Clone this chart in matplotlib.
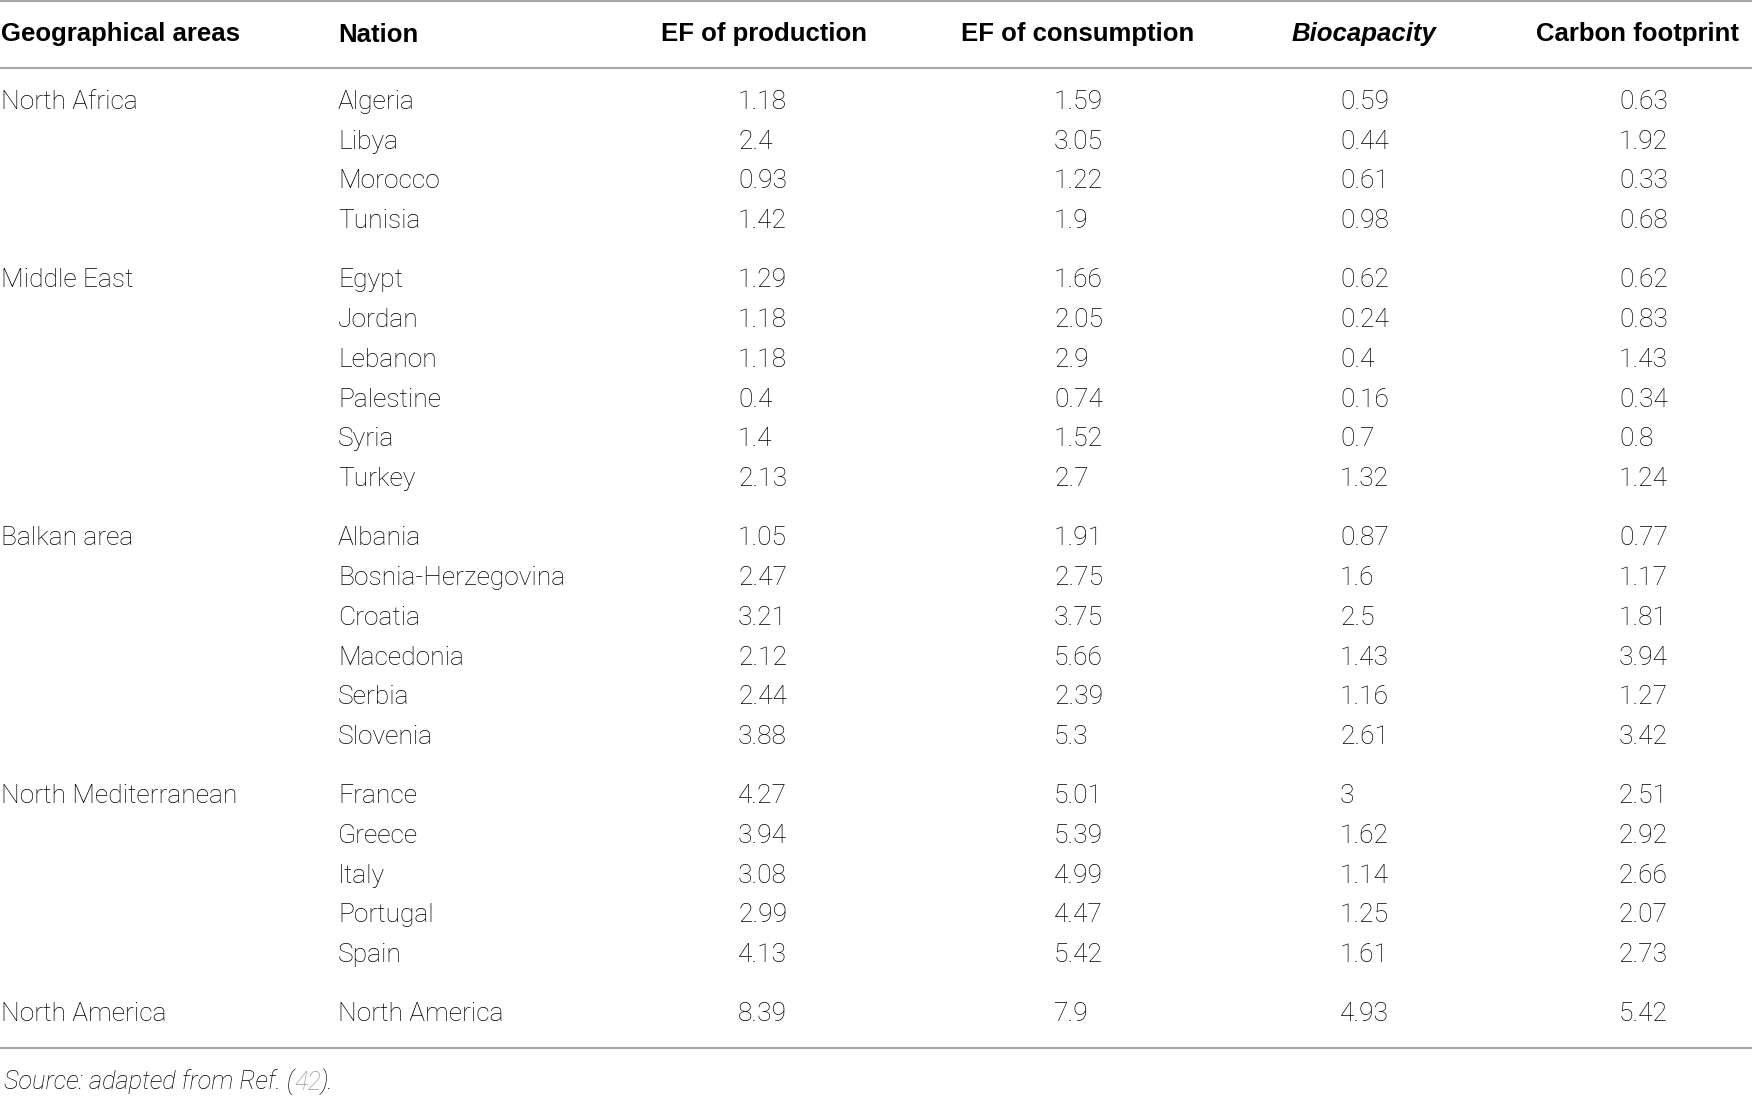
import matplotlib
matplotlib.use("Agg")
import matplotlib.pyplot as plt
from matplotlib.lines import Line2D

# table content
headers = ["Geographical areas", "Nation", "EF of production",
           "EF of consumption", "Biocapacity", "Carbon footprint"]
areas = ["North Africa", "Middle East", "Balkan area",
         "North Mediterranean", "North America"]
area_sizes = [4, 6, 6, 5, 1]
nations = ["Algeria", "Libya", "Morocco", "Tunisia",
           "Egypt", "Jordan", "Lebanon", "Palestine", "Syria", "Turkey",
           "Albania", "Bosnia-Herzegovina", "Croatia", "Macedonia", "Serbia", "Slovenia",
           "France", "Greece", "Italy", "Portugal", "Spain",
           "North America"]
ef_production = [1.18, 2.4, 0.93, 1.42,
                 1.29, 1.18, 1.18, 0.4, 1.4, 2.13,
                 1.05, 2.47, 3.21, 2.12, 2.44, 3.88,
                 4.27, 3.94, 3.08, 2.99, 4.13,
                 8.39]
ef_consumption = [1.59, 3.05, 1.22, 1.9,
                  1.66, 2.05, 2.9, 0.74, 1.52, 2.7,
                  1.91, 2.75, 3.75, 5.66, 2.39, 5.3,
                  5.01, 5.39, 4.99, 4.47, 5.42,
                  7.9]
biocapacity = [0.59, 0.44, 0.61, 0.98,
               0.62, 0.24, 0.4, 0.16, 0.7, 1.32,
               0.87, 1.6, 2.5, 1.43, 1.16, 2.61,
               3, 1.62, 1.14, 1.25, 1.61,
               4.93]
carbon_footprint = [0.63, 1.92, 0.33, 0.68,
                    0.62, 0.83, 1.43, 0.34, 0.8, 1.24,
                    0.77, 1.17, 1.81, 3.94, 1.27, 3.42,
                    2.51, 2.92, 2.66, 2.07, 2.73,
                    5.42]
source_note = ["Source: adapted from Ref. (", "42", ")."]

W, H = 1752, 1096
fig = plt.figure(figsize=(W / 100, H / 100), dpi=100)
fig.patch.set_facecolor("white")

def fx(x):
    return x / W

def fy(y):
    return 1 - y / H

body = dict(family=["Roboto", "DejaVu Sans"], fontweight="light",
            fontsize=19, color="#000000", va="baseline")
head = dict(family=["Liberation Sans", "DejaVu Sans"], fontweight="bold",
            fontsize=18.5, color="#000000", va="baseline")

def hline(y):
    fig.add_artist(Line2D([0, 1], [fy(y), fy(y)], transform=fig.transFigure,
                          color="#a8a8a8", lw=1.5))

hline(1)
hline(68)
hline(1048)

# header row
head_y = 41.5
fig.text(fx(1), fy(head_y), headers[0], ha="left", **head)
fig.text(fx(338), fy(head_y), headers[1], ha="left", **head)
fig.text(fx(764), fy(head_y), headers[2], ha="center", **head)
fig.text(fx(1078), fy(head_y), headers[3], ha="center", **head)
fig.text(fx(1364), fy(head_y), headers[4], ha="center", style="italic", **head)
fig.text(fx(1637), fy(head_y), headers[5], ha="center", **head)

# body rows
value_cols = [(738, ef_production), (1054, ef_consumption),
              (1340, biocapacity), (1619, carbon_footprint)]
step = 39.75
gap = 19.4
y = 99.5
i = 0
for area, n in zip(areas, area_sizes):
    fig.text(fx(1), fy(y + 9.5), area, ha="left", **body)
    for k in range(n):
        fig.text(fx(338), fy(y + 9.5), nations[i], ha="left", **body)
        for xc, vals in value_cols:
            fig.text(fx(xc), fy(y + 9.5), "{:g}".format(vals[i]), ha="left", **body)
        i += 1
        y += step
    y += gap

# source line with grey reference number
note = dict(family=["Roboto", "DejaVu Sans"], fontweight="light", style="italic",
            fontsize=18.3, va="baseline")
fig.canvas.draw()
renderer = fig.canvas.get_renderer()
x = 4
colors = ["#000000", "#999999", "#000000"]
for part, c in zip(source_note, colors):
    t = fig.text(fx(x), fy(1089.5), part, ha="left", color=c, **note)
    bb = t.get_window_extent(renderer)
    x += bb.width

fig.savefig("out.png", dpi=100, facecolor="white")
